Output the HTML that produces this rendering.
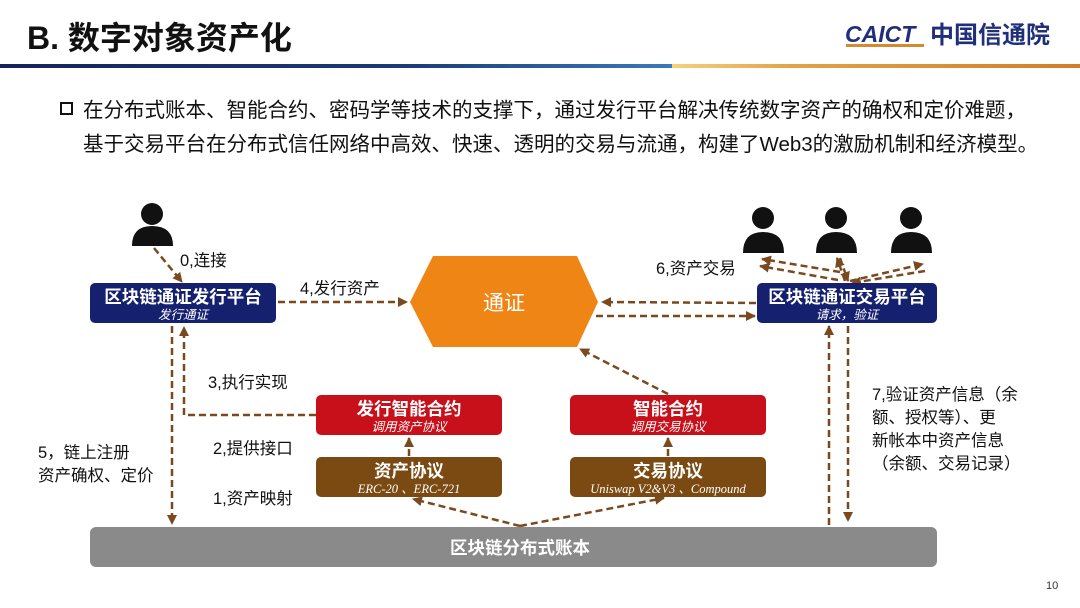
<!DOCTYPE html>
<html><head><meta charset="utf-8"><style>
html,body{margin:0;padding:0;background:#fff;}
svg{display:block;font-family:"Liberation Sans","Noto Sans CJK SC",sans-serif;}
</style></head><body>
<svg width="1080" height="608" viewBox="0 0 1080 608" xmlns="http://www.w3.org/2000/svg">
<defs>
<linearGradient id="gb" x1="0" x2="1"><stop offset="0" stop-color="#16235a"/><stop offset="0.6" stop-color="#1b3a78"/><stop offset="1" stop-color="#3a7ab8"/></linearGradient>
<linearGradient id="go" x1="0" x2="1"><stop offset="0" stop-color="#f3d27a"/><stop offset="0.3" stop-color="#e0a24a"/><stop offset="1" stop-color="#d07e2c"/></linearGradient>
<marker id="ah" viewBox="0 0 10 10" refX="9" refY="5" markerWidth="4" markerHeight="4" orient="auto-start-reverse"><path d="M0,0 L10,5 L0,10 z" fill="#7a4a1e"/></marker>
</defs>
<!-- header -->
<text x="27" y="49" font-size="32" font-weight="bold" fill="#111">B. 数字对象资产化</text>
<text x="845" y="42" font-size="23" font-weight="bold" font-style="italic" fill="#1f2f7a">CAICT</text>
<rect x="846" y="44" width="78" height="3" fill="#d68a2e"/>
<text x="930" y="43" font-size="24" font-weight="bold" fill="#1f2f7a">中国信通院</text>
<rect x="0" y="64" width="672" height="4" fill="url(#gb)"/>
<rect x="672" y="64" width="408" height="4" fill="url(#go)"/>
<!-- bullets -->
<rect x="61" y="103" width="11" height="11" fill="none" stroke="#111" stroke-width="2"/>
<text x="83" y="117" font-size="20.5" fill="#111">在分布式账本、智能合约、密码学等技术的支撑下，通过发行平台解决传统数字资产的确权和定价难题，</text>
<text x="83" y="151" font-size="20.5" fill="#111">基于交易平台在分布式信任网络中高效、快速、透明的交易与流通，构建了Web3的激励机制和经济模型。</text>

<!-- persons -->
<g fill="#111">
<circle cx="152" cy="214" r="11"/><path d="M132,246 Q132,226 152,226 Q173,226 173,246 z"/>
<circle cx="763" cy="218" r="11"/><path d="M743,253 Q743,232 763,232 Q784,232 784,253 z"/>
<circle cx="836" cy="218" r="11"/><path d="M816,253 Q816,232 836,232 Q857,232 857,253 z"/>
<circle cx="911" cy="218" r="11"/><path d="M891,253 Q891,232 911,232 Q932,232 932,253 z"/>
</g>

<!-- connectors -->
<g stroke="#7a4a1e" stroke-width="2.5" stroke-dasharray="7,4" fill="none" marker-end="url(#ah)">
<line x1="154" y1="248" x2="182" y2="282"/>
<line x1="278" y1="302" x2="407" y2="302"/>
<line x1="172" y1="326" x2="172" y2="524"/>
<polyline points="316,415 184,415 184,327"/>
<line x1="409" y1="456" x2="409" y2="438"/>
<line x1="668" y1="456" x2="668" y2="438"/>
<line x1="520" y1="526" x2="413" y2="499"/>
<line x1="520" y1="526" x2="664" y2="498"/>
<line x1="668" y1="394" x2="580" y2="349"/>
<line x1="756" y1="303" x2="602" y2="302"/>
<line x1="596" y1="316" x2="755" y2="316"/>
<line x1="829" y1="525" x2="829" y2="326"/>
<line x1="848" y1="326" x2="848" y2="521"/>
<line x1="838" y1="280" x2="760" y2="266"/>
<line x1="840" y1="272" x2="762" y2="259"/>
<line x1="845" y1="281" x2="837" y2="258"/>
<line x1="840" y1="258" x2="848" y2="281"/>
<line x1="850" y1="281" x2="923" y2="264"/>
<line x1="925" y1="271" x2="852" y2="283"/>
</g>

<!-- hexagon -->
<polygon points="410,302 433,256 577,256 598,302 577,347 433,347" fill="#ef8514"/>
<text x="504" y="310" font-size="21" fill="#fff" text-anchor="middle">通证</text>

<!-- platforms -->
<rect x="90" y="283" width="186" height="40" rx="5" fill="#15206e"/>
<text x="183" y="303" font-size="17.5" font-weight="bold" fill="#fff" text-anchor="middle">区块链通证发行平台</text>
<text x="183" y="319" font-size="12.5" font-style="italic" fill="#fff" text-anchor="middle">发行通证</text>
<rect x="757" y="283" width="180" height="40" rx="5" fill="#15206e"/>
<text x="847" y="303" font-size="17.5" font-weight="bold" fill="#fff" text-anchor="middle">区块链通证交易平台</text>
<text x="847" y="319" font-size="12.5" font-style="italic" fill="#fff" text-anchor="middle">请求，验证</text>

<!-- contracts -->
<rect x="316" y="395" width="186" height="40" rx="5" fill="#c8101a"/>
<text x="409" y="415" font-size="17.5" font-weight="bold" fill="#fff" text-anchor="middle">发行智能合约</text>
<text x="409" y="431" font-size="12.5" font-style="italic" fill="#fff" text-anchor="middle">调用资产协议</text>
<rect x="570" y="395" width="196" height="40" rx="5" fill="#c8101a"/>
<text x="668" y="415" font-size="17.5" font-weight="bold" fill="#fff" text-anchor="middle">智能合约</text>
<text x="668" y="431" font-size="12.5" font-style="italic" fill="#fff" text-anchor="middle">调用交易协议</text>
<rect x="316" y="457" width="186" height="40" rx="5" fill="#7b4a12"/>
<text x="409" y="477" font-size="17.5" font-weight="bold" fill="#fff" text-anchor="middle">资产协议</text>
<text x="409" y="493" font-size="12.5" font-style="italic" fill="#fff" text-anchor="middle" font-family="Liberation Serif, serif">ERC-20 、ERC-721</text>
<rect x="570" y="457" width="196" height="40" rx="5" fill="#7b4a12"/>
<text x="668" y="477" font-size="17.5" font-weight="bold" fill="#fff" text-anchor="middle">交易协议</text>
<text x="668" y="493" font-size="12.5" font-style="italic" fill="#fff" text-anchor="middle" font-family="Liberation Serif, serif">Uniswap V2&amp;V3 、Compound</text>

<!-- ledger -->
<rect x="90" y="527" width="847" height="40" rx="6" fill="#8a8a8a"/>
<text x="520" y="554" font-size="17.5" font-weight="bold" fill="#fff" text-anchor="middle">区块链分布式账本</text>

<!-- labels -->
<g font-size="16.5" fill="#111">
<text x="180" y="266">0,连接</text>
<text x="300" y="294">4,发行资产</text>
<text x="208" y="388">3,执行实现</text>
<text x="213" y="454">2,提供接口</text>
<text x="213" y="504">1,资产映射</text>
<text x="38" y="458">5，链上注册</text>
<text x="38" y="481">资产确权、定价</text>
<text x="656" y="274">6,资产交易</text>
<text x="872" y="400">7,验证资产信息（余</text>
<text x="872" y="423">额、授权等）、更</text>
<text x="872" y="446">新帐本中资产信息</text>
<text x="872" y="469">（余额、交易记录）</text>
</g>
<text x="1046" y="589" font-size="11" fill="#333">10</text>
</svg>
</body></html>
